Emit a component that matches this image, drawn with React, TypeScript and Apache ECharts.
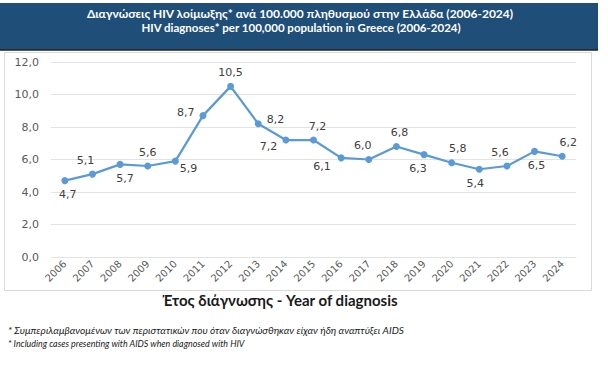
import React, { useEffect, useRef } from "react";
import * as echarts from "echarts";

const years = ["2006","2007","2008","2009","2010","2011","2012","2013","2014","2015","2016","2017","2018","2019","2020","2021","2022","2023","2024"];
const rates = [4.7, 5.1, 5.7, 5.6, 5.9, 8.7, 10.5, 8.2, 7.2, 7.2, 6.1, 6.0, 6.8, 6.3, 5.8, 5.4, 5.6, 6.5, 6.2];
const titleLines = [
  "Διαγνώσεις HIV λοίμωξης* ανά 100.000 πληθυσμού στην Ελλάδα (2006-2024)",
  "HIV diagnoses* per 100,000 population in Greece (2006-2024)",
];
const xAxisTitle = "Έτος διάγνωσης - Year of diagnosis";
const footnotes = [
  "* Συμπεριλαμβανομένων των περιστατικών που όταν διαγνώσθηκαν είχαν ήδη αναπτύξει AIDS",
  "* Including cases presenting with AIDS when diagnosed with HIV",
];

// label placement style per point (position, offset)
const labelStyles: [string, number[]][] = [
  ["bottom", [3, 0]],
  ["top", [-7, 0]],
  ["bottom", [5, 0]],
  ["top", [0, 0]],
  ["right", [-4, 7]],
  ["left", [0, -3]],
  ["top", [0, 0]],
  ["right", [0, -4]],
  ["left", [0, 6]],
  ["top", [4, 0]],
  ["left", [-2, 9]],
  ["top", [-6, 0]],
  ["top", [3, 0]],
  ["bottom", [-6, 0]],
  ["top", [6, 0]],
  ["bottom", [-4, 0]],
  ["top", [-7, 0]],
  ["bottom", [2, 0]],
  ["top", [6, 0]],
];

const fmt = (v: number) => v.toFixed(1).replace(".", ",");

export default function App() {
  const ref = useRef<HTMLDivElement>(null);
  useEffect(() => {
    if (!ref.current) return;
    const chart = echarts.init(ref.current, null, { renderer: "svg" });
    chart.setOption({
      animation: false,
      backgroundColor: "#ffffff",
      graphic: [
        { type: "rect", z: -10, shape: { x: 4.5, y: 52.5, width: 587, height: 238 }, style: { fill: "#ffffff", stroke: "#D9D9D9", lineWidth: 1 } },
        { type: "rect", z: 0, shape: { x: 0, y: 3, width: 598, height: 47 }, style: { fill: "#1F4E79" } },
        { type: "line", z: 1, shape: { x1: 0, y1: 50, x2: 598, y2: 50 }, style: { stroke: "#222222", lineWidth: 1.5 } },
        { type: "text", z: 2, x: 300, y: 13, style: { text: titleLines[0], fill: "#ffffff", font: "bold 12px Lato", align: "center", verticalAlign: "middle" } },
        { type: "text", z: 2, x: 301, y: 27, style: { text: titleLines[1], fill: "#ffffff", font: "bold 11.5px Lato", align: "center", verticalAlign: "middle" } },
        { type: "text", z: 2, x: 280, y: 300, style: { text: xAxisTitle, fill: "#1a1a1a", font: "bold 15px Lato", align: "center", verticalAlign: "middle" } },
        { type: "text", z: 2, x: 8, y: 330, style: { text: footnotes[0], fill: "#1a1a1a", font: "italic 10.1px Lato", align: "left", verticalAlign: "middle" } },
        { type: "text", z: 2, x: 8, y: 343, style: { text: footnotes[1], fill: "#1a1a1a", font: "italic 8.9px Lato", align: "left", verticalAlign: "middle" } },
      ],
      grid: { left: 51, right: 32, top: 62, bottom: 110, containLabel: false },
      xAxis: {
        type: "category",
        data: years,
        boundaryGap: true,
        axisTick: { show: false },
        axisLine: { show: true, lineStyle: { color: "#E3E3E3", width: 1 } },
        axisLabel: { rotate: 45, interval: 0, fontSize: 10, color: "#595959", fontFamily: "DejaVu Sans", margin: 5 },
      },
      yAxis: {
        type: "value",
        min: 0,
        max: 12,
        interval: 2,
        axisLine: { show: false },
        axisTick: { show: false },
        splitLine: { lineStyle: { color: "#E3E3E3", width: 1 } },
        axisLabel: { formatter: (v: number) => fmt(v), fontSize: 11, color: "#595959", fontFamily: "DejaVu Sans", margin: 12 },
      },
      series: [
        {
          type: "line",
          data: rates.map((v, i) => ({
            value: v,
            label: { position: labelStyles[i][0], offset: labelStyles[i][1] },
          })),
          symbol: "circle",
          symbolSize: 7,
          lineStyle: { color: "#5B9BD5", width: 2.25 },
          itemStyle: { color: "#5B9BD5" },
          label: {
            show: true,
            formatter: (p: any) => fmt(p.value),
            fontSize: 11,
            color: "#404040",
            fontFamily: "DejaVu Sans",
            distance: 5,
          },
        },
      ],
    });
    return () => chart.dispose();
  }, []);
  return <div ref={ref} style={{ position: "absolute", left: 0, top: 0, width: 608, height: 367 }} />;
}
